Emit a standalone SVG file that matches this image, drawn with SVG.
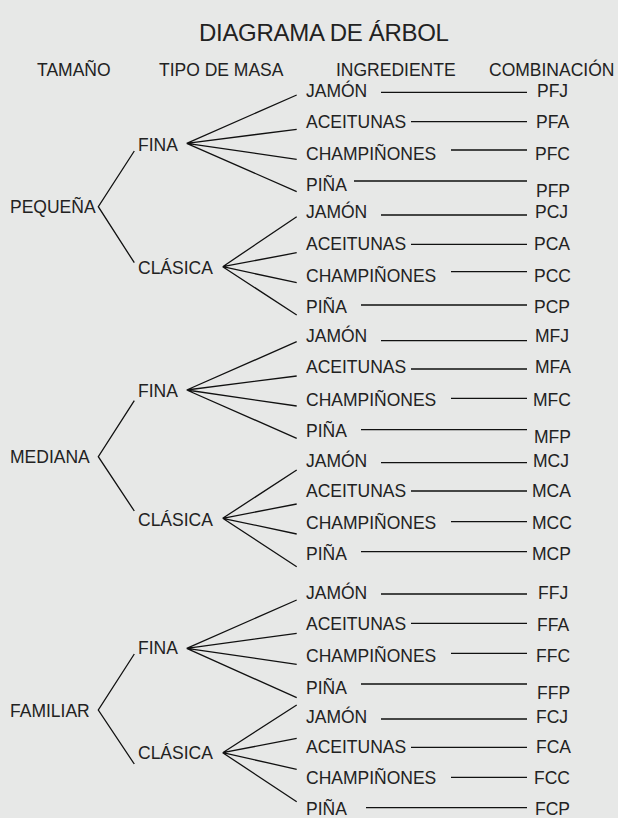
<svg xmlns="http://www.w3.org/2000/svg" width="618" height="818" viewBox="0 0 618 818">
<style>
text{font-family:"Liberation Sans",Arial,sans-serif;font-size:17.5px;fill:#222}
.t{font-size:24px;letter-spacing:-0.3px}
.c{fill:none;stroke:#111;stroke-width:1.3}
</style>
<rect width="618" height="818" fill="#e7e8e7"/>
<g id="title"><text class="t" x="199" y="40.5">DIAGRAMA DE ÁRBOL</text></g>
<g id="headers">
<text x="37" y="76">TAMAÑO</text>
<text x="159" y="76">TIPO DE MASA</text>
<text x="336" y="76">INGREDIENTE</text>
<text x="489" y="76">COMBINACIÓN</text>
</g>
<g id="connectors" class="c">
<polyline points="134.3,151 98.3,206.7 134.3,262.7"/>
<polyline points="134.3,400.7 98.3,456.7 134.3,511"/>
<polyline points="134.3,654 98.3,710 134.3,764"/>
<path d="M186.7,143.3L296.7,95M186.7,143.3L296.7,129.3M186.7,143.3L296.7,159.3M186.7,143.3L296.7,191.7"/>
<path d="M222.7,266.7L296.7,216.7M222.7,266.7L296.7,252.7M222.7,266.7L296.7,282.7M222.7,266.7L296.7,315"/>
<path d="M186.7,390L296.7,341.7M186.7,390L296.7,376M186.7,390L296.7,406M186.7,390L296.7,438.3"/>
<path d="M222.7,518.3L296.7,470M222.7,518.3L296.7,504M222.7,518.3L296.7,534M222.7,518.3L296.7,566.7"/>
<path d="M186.7,648.3L296.7,600M186.7,648.3L296.7,633.3M186.7,648.3L296.7,664.3M186.7,648.3L296.7,697.7"/>
<path d="M222.7,752.7L296.7,705M222.7,752.7L296.7,738.3M222.7,752.7L296.7,769.3M222.7,752.7L296.7,801.7"/>
<path d="M381,92.3H527M411,121.7H527M451,150H527M354,181H527"/>
<path d="M381,215H527M411,244.3H527M451,271.7H527M361,305H527"/>
<path d="M381,340.7H527M411,369H527M451,398.3H527M361,429.7H527"/>
<path d="M381,462.7H527M411,491H527M451,521.7H527M361,551.7H527"/>
<path d="M381,594H527M411,623.3H527M451,653.3H527M361,684H527"/>
<path d="M381,719H527M411,747.3H527M451,777.3H527M366,807.7H527"/>
</g>
<g id="pequena"><text x="10" y="212.7">PEQUEÑA</text></g>
<g id="mediana"><text x="10" y="463.3">MEDIANA</text></g>
<g id="familiar"><text x="10" y="716.7">FAMILIAR</text></g>
<g id="p-fina"><text x="138" y="151">FINA</text></g>
<g id="p-clasica"><text x="138" y="274.3">CLÁSICA</text></g>
<g id="m-fina"><text x="138" y="397.3">FINA</text></g>
<g id="m-clasica"><text x="138" y="526">CLÁSICA</text></g>
<g id="f-fina"><text x="138" y="654.3">FINA</text></g>
<g id="f-clasica"><text x="138" y="759.3">CLÁSICA</text></g>
<g id="p-f-ing">
<text x="306" y="96.7">JAMÓN</text><text x="306" y="128.3">ACEITUNAS</text><text x="306" y="160">CHAMPIÑONES</text><text x="306" y="190.7">PIÑA</text>
</g>
<g id="p-c-ing">
<text x="306" y="218.3">JAMÓN</text><text x="306" y="250">ACEITUNAS</text><text x="306" y="282.3">CHAMPIÑONES</text><text x="306" y="313.3">PIÑA</text>
</g>
<g id="m-f-ing">
<text x="306" y="342">JAMÓN</text><text x="306" y="373.3">ACEITUNAS</text><text x="306" y="405.7">CHAMPIÑONES</text><text x="306" y="436.7">PIÑA</text>
</g>
<g id="m-c-ing">
<text x="306" y="466.7">JAMÓN</text><text x="306" y="496.7">ACEITUNAS</text><text x="306" y="529.3">CHAMPIÑONES</text><text x="306" y="560">PIÑA</text>
</g>
<g id="f-f-ing">
<text x="306" y="599.3">JAMÓN</text><text x="306" y="630">ACEITUNAS</text><text x="306" y="661.7">CHAMPIÑONES</text><text x="306" y="694">PIÑA</text>
</g>
<g id="f-c-ing">
<text x="306" y="722.7">JAMÓN</text><text x="306" y="752.7">ACEITUNAS</text><text x="306" y="784.3">CHAMPIÑONES</text><text x="306" y="815">PIÑA</text>
</g>
<g id="p-comb">
<text x="537" y="96.7">PFJ</text><text x="536" y="128.3">PFA</text><text x="535" y="160">PFC</text><text x="536" y="197.3">PFP</text>
<text x="535" y="218.3">PCJ</text><text x="534" y="250">PCA</text><text x="534" y="282.3">PCC</text><text x="534" y="313.3">PCP</text>
</g>
<g id="m-comb">
<text x="535" y="342">MFJ</text><text x="535" y="373.3">MFA</text><text x="533" y="405.7">MFC</text><text x="534" y="443.3">MFP</text>
<text x="533" y="466.7">MCJ</text><text x="532" y="496.7">MCA</text><text x="532" y="529.3">MCC</text><text x="532" y="560">MCP</text>
</g>
<g id="f-comb">
<text x="538" y="599.3">FFJ</text><text x="537" y="631">FFA</text><text x="536" y="661.7">FFC</text><text x="537" y="699.3">FFP</text>
<text x="536" y="722.7">FCJ</text><text x="536" y="752.7">FCA</text><text x="534" y="784.3">FCC</text><text x="535" y="815">FCP</text>
</g>
</svg>
